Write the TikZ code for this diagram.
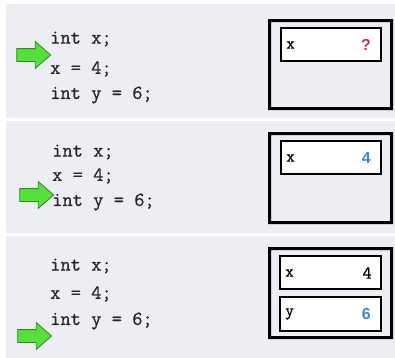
\documentclass[tikz,border=0pt]{standalone}
\usepackage{fontspec}
\setmonofont{Latin Modern Mono}
\newfontfamily\codefont{Latin Modern Mono}[FakeBold=0.7]
\setsansfont{Liberation Sans}
\usetikzlibrary{shapes.arrows}
\definecolor{panelbg}{HTML}{EDEEF3}
\definecolor{arrowfill}{HTML}{55E03A}
\definecolor{arrowline}{HTML}{2E8A22}
\definecolor{qred}{HTML}{C8324C}
\definecolor{vblue}{HTML}{3A88C8}
\tikzset{
  panel/.style={fill=panelbg, draw=none},
  ring/.style={fill=black, even odd rule},
  cell/.style={draw=black, fill=white, line width=1.2bp},
  code/.style={anchor=west, inner sep=0pt, text=black!85, font=\codefont\fontsize{20}{20}\selectfont},
  cellname/.style={anchor=west, inner sep=0pt, font=\codefont\fontsize{17}{17}\selectfont},
  cellval/.style={anchor=east, inner sep=0pt, font=\sffamily\bfseries\fontsize{16}{16}\selectfont},
  cellplain/.style={anchor=east, inner sep=0pt, font=\codefont\fontsize{18}{18}\selectfont},
  pointer/.style={single arrow, draw=arrowline, fill=arrowfill, line width=0.8bp,
    minimum height=34bp, inner xsep=0pt, inner ysep=6bp, single arrow head extend=7bp,
    single arrow tip angle=82}
}
\begin{document}
\begin{tikzpicture}[x=1bp, y=-1bp]
\useasboundingbox (0,0) rectangle (395,358);
\fill[white] (0,0) rectangle (395,358);
% panels
\path[panel] (6,4) rectangle (395,118);
\path[panel] (6,121) rectangle (395,233);
\path[panel] (6,236) rectangle (395,358);

% ---------- panel 1
\node[code] (c1a) at (50,39) {int x;};
\node[code] (c1b) at (50,69) {x = 4;};
\node[code] (c1c) at (50,95) {int y = 6;};
\node[pointer] (p1) at (30,55) {};
\path[ring] (268,19) rectangle (393,110) (271,22) rectangle (390,107);
\draw[cell] (281,28) rectangle (381,61);
\node[cellname] (n1x) at (286,45) {x};
\node[cellval, text=qred] (v1x) at (371,45) {?};

% ---------- panel 2
\node[code] (c2a) at (52,152) {int x;};
\node[code] (c2b) at (52,176) {x = 4;};
\node[code] (c2c) at (52,202) {int y = 6;};
\node[pointer] (p2) at (33,195) {};
\path[ring] (268,132) rectangle (393,224) (271,135) rectangle (390,221);
\draw[cell] (281,141) rectangle (381,174);
\node[cellname] (n2x) at (286,158) {x};
\node[cellval, text=vblue] (v2x) at (371,158) {4};

% ---------- panel 3
\node[code] (c3a) at (50,266) {int x;};
\node[code] (c3b) at (50,294) {x = 4;};
\node[code] (c3c) at (50,321) {int y = 6;};
\node[pointer] (p3) at (31,336) {};
\path[ring] (268,247) rectangle (393,339) (271,250) rectangle (390,336);
\draw[cell] (280,256) rectangle (381,289);
\node[cellname] (n3x) at (285,273) {x};
\node[cellplain] (v3x) at (372,273) {4};
\draw[cell] (280,297) rectangle (381,331);
\node[cellname] (n3y) at (285,314) {y};
\node[cellval, text=vblue] (v3y) at (371,314) {6};
\end{tikzpicture}
\end{document}
